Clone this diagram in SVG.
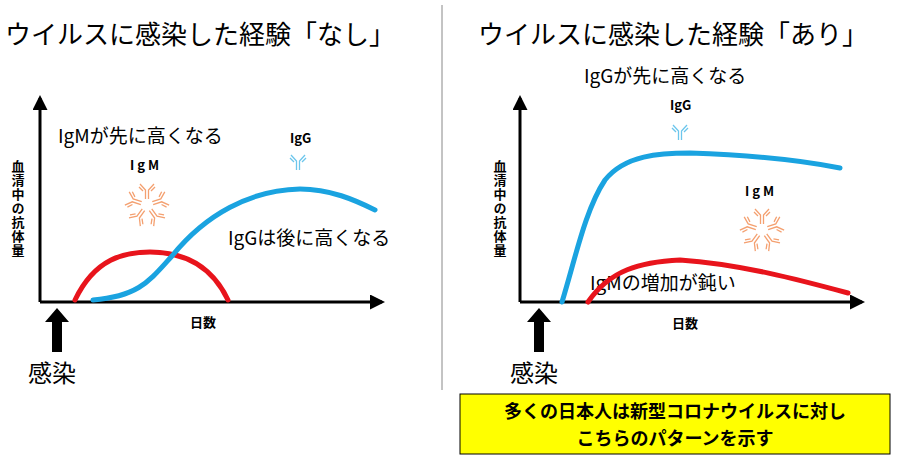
<svg xmlns="http://www.w3.org/2000/svg" xmlns:xlink="http://www.w3.org/1999/xlink" width="900" height="460" viewBox="0 0 900 460">
<style>
text{font-family:"Noto Sans CJK JP","Liberation Sans",sans-serif;fill:#000}
.t{font-size:26px}
.l{font-size:19px}
.b{font-size:13px;font-weight:bold}
.ax{stroke:#000;stroke-width:3;fill:none}
.red{stroke:#e8141c;stroke-width:5;fill:none;stroke-linecap:round}
.blue{stroke:#1aa3e0;stroke-width:5;fill:none;stroke-linecap:round}
.ab{fill:none;stroke-width:1.3}
</style>
<defs>
<marker id="ah" viewBox="0 0 10 10" refX="8" refY="5" markerWidth="5" markerHeight="5" orient="auto"><path d="M0,0L10,5L0,10z" fill="#000"/></marker>
<g id="y"><path d="M-1.5,0V-9L-7,-15M1.5,0V-9L7,-15M-4,-8L-8,-12M4,-8L8,-12"/></g>
<g id="m" stroke="#f4a070" class="ab">
<use xlink:href="#y" transform="rotate(0) translate(0,-6)"/>
<use xlink:href="#y" transform="rotate(72) translate(0,-6)"/>
<use xlink:href="#y" transform="rotate(144) translate(0,-6)"/>
<use xlink:href="#y" transform="rotate(216) translate(0,-6)"/>
<use xlink:href="#y" transform="rotate(288) translate(0,-6)"/>
</g>
</defs>
<rect width="900" height="460" fill="#fff"/>
<line x1="442" y1="5" x2="442" y2="390" stroke="#888" stroke-width="1"/>

<g id="left">
<text class="t" x="5" y="44">ウイルスに感染した経験「なし」</text>
<text class="b" x="18" y="160" style="writing-mode:vertical-rl;letter-spacing:1px" transform="translate(0,0)">血清中の抗体量</text>
<text class="l" x="58" y="143">IgMが先に高くなる</text>
<text class="b" x="130" y="170" style="letter-spacing:3px">IgM</text>
<use xlink:href="#m" x="147" y="205"/>
<text class="b" x="290" y="143">IgG</text>
<g stroke="#6cc6ec" class="ab"><use xlink:href="#y" x="298" y="170"/></g>
<text class="l" x="228" y="245">IgGは後に高くなる</text>
<text class="b" x="190" y="327">日数</text>
<text x="28" y="382" style="font-size:24px">感染</text>
<path d="M57,308L45,322H52V352H62V322H69z" fill="#000"/>
</g>
<g id="right">
<text class="t" x="478" y="44">ウイルスに感染した経験「あり」</text>
<text class="b" x="500" y="160" style="writing-mode:vertical-rl;letter-spacing:1px">血清中の抗体量</text>
<text class="l" x="584" y="83">IgGが先に高くなる</text>
<text class="b" x="670" y="110">IgG</text>
<g stroke="#6cc6ec" class="ab"><use xlink:href="#y" x="680" y="140"/></g>
<text class="b" x="745" y="196" style="letter-spacing:3px">IgM</text>
<use xlink:href="#m" x="762" y="230"/>
<text class="l" x="590" y="290">IgMの増加が鈍い</text>
<text class="b" x="672" y="328">日数</text>
<text x="510" y="382" style="font-size:24px">感染</text>
<path d="M539,308L527,322H534V352H544V322H551z" fill="#000"/>
<rect x="460" y="394" width="430" height="60" fill="#ffff00" stroke="#000" stroke-width="1"/>
<text x="675" y="418" text-anchor="middle" style="font-size:18px;font-weight:bold">多くの日本人は新型コロナウイルスに対し</text>
<text x="675" y="445" text-anchor="middle" style="font-size:18px;font-weight:bold">こちらのパターンを示す</text>
</g>
<g id="connectors">
<path class="ax" d="M40,302V98" marker-end="url(#ah)"/>
<path class="ax" d="M40,302H382" marker-end="url(#ah)"/>
<path class="ax" d="M520,302V98" marker-end="url(#ah)"/>
<path class="ax" d="M520,302H862" marker-end="url(#ah)"/>
<path class="red" d="M75,300C95,258 125,252 150,252C180,252 210,262 228,300"/>
<path class="blue" d="M93,300C140,296 150,280 172,256C205,215 250,190 300,189C330,189 355,200 375,210"/>
<path class="blue" d="M562,302C575,260 585,210 605,180C625,155 660,153 690,153C750,155 800,160 840,168"/>
<path class="red" d="M588,302C610,270 640,262 680,260C740,264 800,280 848,293"/>
</g>
</svg>
